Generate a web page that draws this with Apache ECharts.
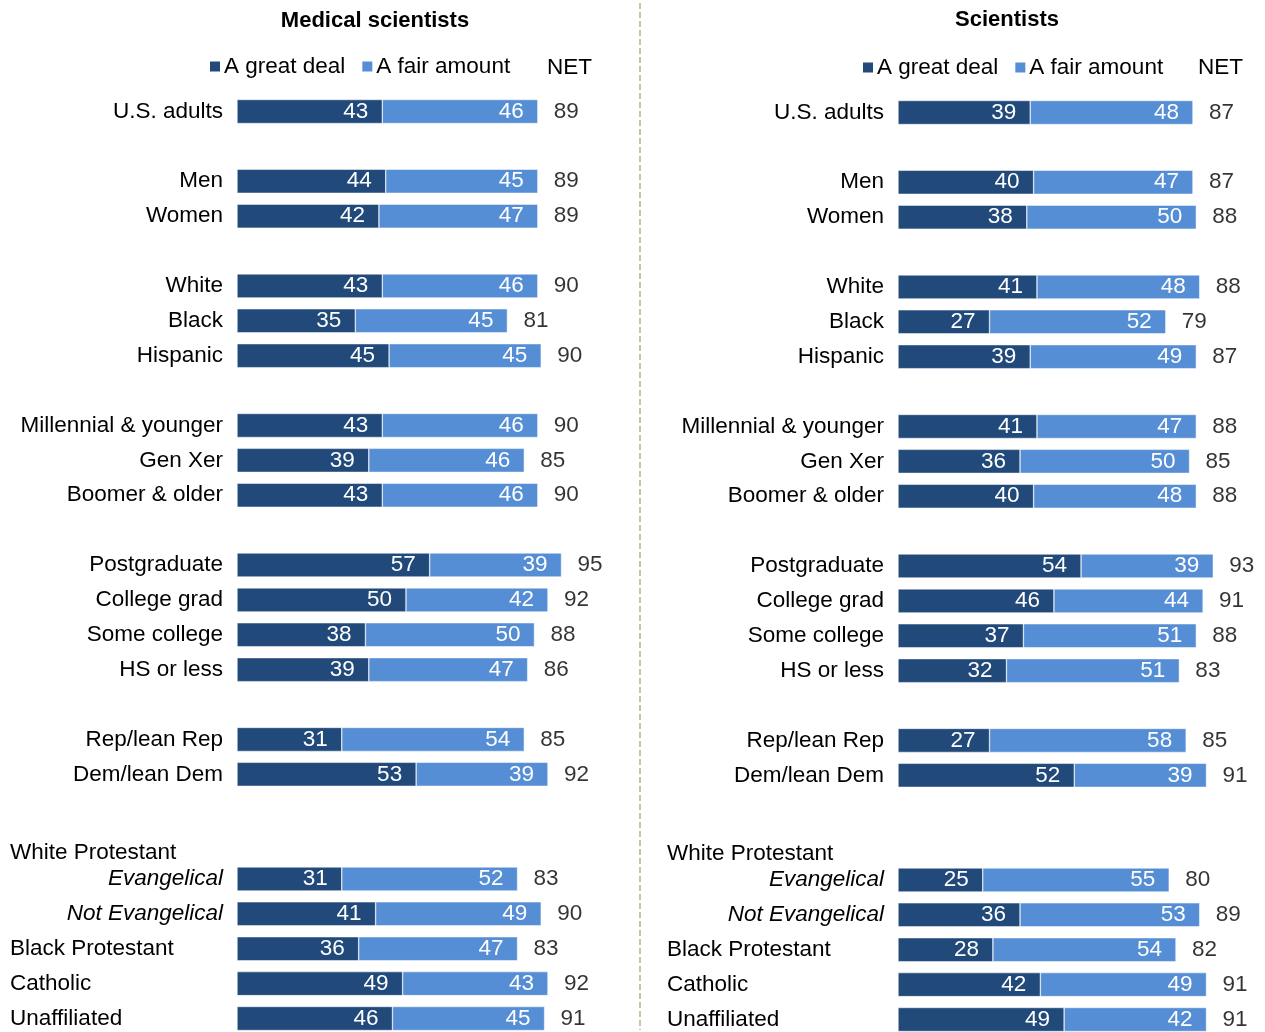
<!DOCTYPE html>
<html><head><meta charset="utf-8">
<script src="https://cdn.jsdelivr.net/npm/echarts@6/dist/echarts.min.js"></script>
<style>html,body{margin:0;padding:0;background:#fff}#c{width:1265px;height:1032px}</style>
</head><body><div id="c"></div>
<script>
const categories = ['U.S. adults','', 'Men','Women','', 'White','Black','Hispanic','', 'Millennial & younger','Gen Xer','Boomer & older','', 'Postgraduate','College grad','Some college','HS or less','', 'Rep/lean Rep','Dem/lean Dem','', 'White Protestant','Evangelical','Not Evangelical','Black Protestant','Catholic','Unaffiliated'];
const medGreat = [43,null,44,42,null,43,35,45,null,43,39,43,null,57,50,38,39,null,31,53,null,null,31,41,36,49,46];
const medFair  = [46,null,45,47,null,46,45,45,null,46,46,46,null,39,42,50,47,null,54,39,null,null,52,49,47,43,45];
const medNet   = [89,null,89,89,null,90,81,90,null,90,85,90,null,95,92,88,86,null,85,92,null,null,83,90,83,92,91];
const sciGreat = [39,null,40,38,null,41,27,39,null,41,36,40,null,54,46,37,32,null,27,52,null,null,25,36,28,42,49];
const sciFair  = [48,null,47,50,null,48,52,49,null,47,50,48,null,39,44,51,51,null,58,39,null,null,55,53,54,49,42];
const sciNet   = [87,null,87,88,null,88,79,87,null,88,85,88,null,93,91,88,83,null,85,91,null,null,80,89,82,91,91];
const leftAligned = ['White Protestant','Black Protestant','Catholic','Unaffiliated'];
const italicLabels = ['Evangelical','Not Evangelical'];
const panelTitles = ['Medical scientists','Scientists'];
const seriesNames = ['A great deal','A fair amount'];

const DARK = '#214a7b', LIGHT = '#558ed5';
const FONT = '"Liberation Sans", Arial, sans-serif';
const FS = 22.5;
const TXT = '#000';

const chart = echarts.init(document.getElementById('c'));

function netData(g, f, n) {
  return n.map((v, i) => v == null ? null : { value: [g[i] + f[i], i], net: v });
}
function axisLabel(w) {
  return {
    fontFamily: FONT, fontSize: FS, color: TXT, margin: 14,
    formatter: (v) => {
      if (!v) return '';
      if (v === 'White Protestant') return '{w|' + v + '}';
      if (leftAligned.includes(v)) return '{l|' + v + '}';
      if (italicLabels.includes(v)) return '{i|' + v + '}';
      return '{r|' + v + '}';
    },
    rich: {
      r: { fontFamily: FONT, fontSize: FS, color: TXT },
      i: { fontFamily: FONT, fontSize: FS, color: TXT, fontStyle: 'italic' },
      l: { fontFamily: FONT, fontSize: FS, color: TXT, width: w, align: 'left' },
      w: { fontFamily: FONT, fontSize: FS, color: TXT, width: w, align: 'left', padding: [18, 0, 0, 0] }
    }
  };
}
function barSeries(idx, g, f, n) {
  const lbl = { show: true, position: 'insideRight', distance: 14, color: '#fff', fontFamily: FONT, fontSize: FS };
  return [
    { name: seriesNames[0], type: 'bar', stack: 's' + idx, xAxisIndex: idx, yAxisIndex: idx, data: g, barWidth: 24,
      itemStyle: { color: DARK, borderColor: '#fff', borderWidth: 0.5 }, label: lbl },
    { name: seriesNames[1], type: 'bar', stack: 's' + idx, xAxisIndex: idx, yAxisIndex: idx, data: f, barWidth: 24,
      itemStyle: { color: LIGHT, borderColor: '#fff', borderWidth: 0.5 }, label: lbl },
    { name: 'NET', type: 'scatter', xAxisIndex: idx, yAxisIndex: idx, data: netData(g, f, n), symbolSize: 0,
      label: { show: true, position: 'right', distance: 16, color: TXT, fontFamily: FONT, fontSize: FS,
        formatter: p => p.data.net } }
  ];
}
const legendCommon = {
  data: seriesNames, icon: 'rect', itemWidth: 12, itemHeight: 12, itemGap: 15, padding: 0,
  textStyle: { fontFamily: FONT, fontSize: FS, color: TXT, padding: [0, 0, 0, -2] }, selectedMode: false
};
const titleStyle = { fontFamily: FONT, fontSize: 22, fontWeight: 'bold', color: TXT };
const netStyle = { fontFamily: FONT, fontSize: FS, fontWeight: 'normal', color: TXT };
chart.setOption({
  animation: false,
  title: [
    { text: panelTitles[0], left: 375, top: 10, padding: 0, textAlign: 'center', textStyle: titleStyle },
    { text: panelTitles[1], left: 1007, top: 9, padding: 0, textAlign: 'center', textStyle: titleStyle },
    { text: 'NET', left: 547, top: 56, padding: 0, textStyle: netStyle },
    { text: 'NET', left: 1198, top: 56, padding: 0, textStyle: netStyle }
  ],
  legend: [
    Object.assign({ left: 208, top: 55 }, legendCommon),
    Object.assign({ left: 861, top: 56 }, legendCommon)
  ],
  grid: [
    { left: 237, top: 111.5, width: 338, height: 907 },
    { left: 898, top: 112.5, width: 339, height: 907 }
  ],
  xAxis: [
    { gridIndex: 0, type: 'value', min: 0, max: 100, show: false },
    { gridIndex: 1, type: 'value', min: 0, max: 100, show: false }
  ],
  yAxis: [
    { gridIndex: 0, type: 'category', data: categories, inverse: true, boundaryGap: false, axisLine: { show: false }, axisTick: { show: false }, splitLine: { show: false }, axisLabel: axisLabel(213) },
    { gridIndex: 1, type: 'category', data: categories, inverse: true, boundaryGap: false, axisLine: { show: false }, axisTick: { show: false }, splitLine: { show: false }, axisLabel: axisLabel(217) }
  ],
  graphic: [
    { type: 'line', shape: { x1: 640, y1: 3, x2: 640, y2: 1030 }, style: { stroke: '#a9bb6a', lineWidth: 1.5, lineDash: [6, 3] } }
  ],
  series: [].concat(barSeries(0, medGreat, medFair, medNet), barSeries(1, sciGreat, sciFair, sciNet))
});
</script></body></html>
